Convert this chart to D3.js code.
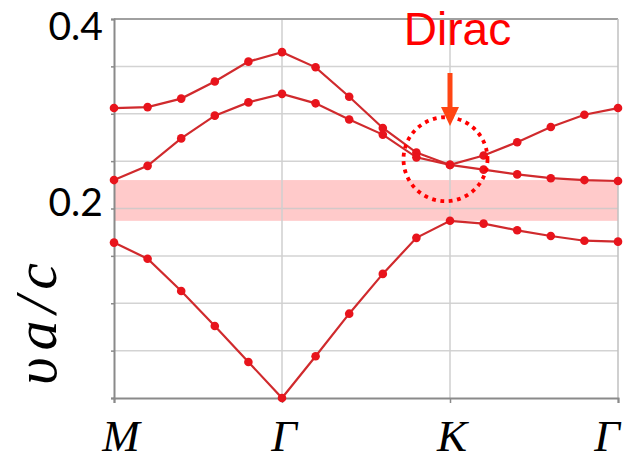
<!DOCTYPE html>
<html>
<head>
<meta charset="utf-8">
<script src="https://cdn.jsdelivr.net/npm/d3@7"></script>
<style>
  html, body { margin: 0; padding: 0; background: #fff; }
  svg { display: block; }
</style>
</head>
<body>
<svg id="chart" width="623" height="461"></svg>
<script>
// High-symmetry path and band frequencies (normalised, νa/c)
const pathLabels = ["M", "Γ", "K", "Γ"];
const pathIndex = [0, 5, 10, 15];
const bandUpper  = [0.306, 0.307, 0.316, 0.334, 0.355, 0.365, 0.349, 0.318, 0.285, 0.259, 0.246, 0.256, 0.270, 0.286, 0.299, 0.306];
const bandMiddle = [0.230, 0.245, 0.274, 0.298, 0.312, 0.321, 0.311, 0.294, 0.278, 0.254, 0.246, 0.241, 0.236, 0.232, 0.230, 0.229];
const bandLower  = [0.164, 0.147, 0.113, 0.076, 0.038, 0.000, 0.044, 0.089, 0.131, 0.169, 0.187, 0.184, 0.177, 0.171, 0.166, 0.165];
const gapRange = [0.187, 0.230];
const yTickLabels = [0.2, 0.4];
const gridValues = [0.05, 0.1, 0.15, 0.2, 0.25, 0.3, 0.35];
const diracPoint = { index: 10, value: 0.252 };

(function draw() {
  const svg = d3.select("#chart");
  const plotL = 114, plotR = 618, plotT = 19, plotB = 398;

  const x = d3.scaleLinear().domain([0, 15]).range([plotL, plotR]);
  const y = d3.scaleLinear().domain([0, 0.4]).range([plotB, plotT]);

  // photonic band gap
  svg.append("rect")
    .attr("x", plotL).attr("width", plotR - plotL)
    .attr("y", y(gapRange[1])).attr("height", y(gapRange[0]) - y(gapRange[1]))
    .attr("fill", "#ff5a5a").attr("fill-opacity", 0.32);

  // horizontal grid
  svg.append("g").selectAll("line").data(gridValues).join("line")
    .attr("x1", plotL).attr("x2", plotR)
    .attr("y1", d => y(d)).attr("y2", d => y(d))
    .attr("stroke", "#c8c8c8").attr("stroke-opacity", 0.8).attr("stroke-width", 1.5);

  // vertical grid at interior symmetry points
  svg.append("g").selectAll("line").data(pathIndex.slice(1, 3)).join("line")
    .attr("x1", d => x(d)).attr("x2", d => x(d))
    .attr("y1", plotT).attr("y2", plotB)
    .attr("stroke", "#cfcfcf").attr("stroke-width", 1.5);

  // frame
  svg.append("line").attr("x1", plotL).attr("x2", plotR).attr("y1", plotT).attr("y2", plotT)
    .attr("stroke", "#a0a0a0").attr("stroke-width", 2);
  svg.append("line").attr("x1", plotR).attr("x2", plotR).attr("y1", plotT).attr("y2", plotB)
    .attr("stroke", "#c0c0c0").attr("stroke-width", 1.5);

  // axes
  const xAxis = d3.axisBottom(x).tickValues(pathIndex).tickSize(5).tickFormat("");
  const gx = svg.append("g").attr("transform", `translate(0,${plotB})`).call(xAxis);
  gx.select(".domain").attr("stroke", "#8a8a8a").attr("stroke-width", 2);
  gx.selectAll(".tick line").attr("stroke", "#8a8a8a").attr("stroke-width", 1.5);

  const yAxis = d3.axisLeft(y).tickValues(d3.range(0, 0.401, 0.05)).tickSize(3).tickFormat("");
  const gy = svg.append("g").attr("transform", `translate(${plotL},0)`).call(yAxis);
  gy.select(".domain").attr("stroke", "#8a8a8a").attr("stroke-width", 2);
  gy.selectAll(".tick line").attr("stroke", "#8a8a8a").attr("stroke-width", 1.5);

  // y tick labels
  svg.append("g").selectAll("text").data(yTickLabels).join("text")
    .attr("x", 48.5)
    .attr("y", d => Math.max(y(d) + 7, 40))
    .attr("font-family", "Lato, 'Open Sans', sans-serif")
    .attr("font-size", 39)
    .attr("fill", "#000")
    .text(d => d.toFixed(1));

  // x labels (symmetry points)
  svg.append("g").selectAll("text").data(pathLabels).join("text")
    .attr("x", (d, i) => Math.min(Math.max(x(pathIndex[i]) + 2, 121), 607))
    .attr("y", 451)
    .attr("text-anchor", "middle")
    .attr("font-family", "'Liberation Serif', 'DejaVu Serif', serif")
    .attr("font-style", "italic")
    .attr("font-size", 45)
    .attr("fill", "#000")
    .text(d => d);

  // y axis title
  svg.append("text")
    .attr("transform", "translate(56,385) rotate(-90)")
    .attr("font-family", "'Liberation Serif', 'DejaVu Serif', serif")
    .attr("font-style", "italic")
    .attr("font-size", 60)
    .attr("textLength", 122)
    .attr("lengthAdjust", "spacing")
    .attr("fill", "#000")
    .text("υa/c");

  // bands
  const line = d3.line().x((d, i) => x(i)).y(d => y(d));
  const bands = [bandUpper, bandMiddle, bandLower];
  const gBands = svg.append("g");
  bands.forEach(b => {
    gBands.append("path").datum(b)
      .attr("d", line)
      .attr("fill", "none")
      .attr("stroke", "#d02a2d")
      .attr("stroke-width", 2.2);
  });
  bands.forEach(b => {
    gBands.append("g").selectAll("circle").data(b).join("circle")
      .attr("cx", (d, i) => x(i))
      .attr("cy", d => y(d))
      .attr("r", 4.3)
      .attr("fill", "#e8141c");
  });

  // Dirac point annotation
  const cx = x(diracPoint.index) - 4.5, cy = y(diracPoint.value);
  svg.append("circle")
    .attr("cx", cx).attr("cy", cy).attr("r", 42)
    .attr("fill", "none")
    .attr("stroke", "#ff0000")
    .attr("stroke-width", 3.8)
    .attr("stroke-dasharray", "3.8 4.6");

  const ax = x(diracPoint.index);
  svg.append("rect")
    .attr("x", ax - 2.5).attr("y", 73).attr("width", 5).attr("height", 35)
    .attr("fill", "#ff4513");
  svg.append("path")
    .attr("d", `M${ax - 9},107 L${ax + 9},107 L${ax},126 Z`)
    .attr("fill", "#ff4513");

  svg.append("text")
    .attr("x", ax + 7.5).attr("y", 45)
    .attr("text-anchor", "middle")
    .attr("font-family", "'Liberation Sans', Arial, sans-serif")
    .attr("font-size", 46)
    .attr("fill", "#ff0000")
    .text("Dirac");
})();
</script>
</body>
</html>
